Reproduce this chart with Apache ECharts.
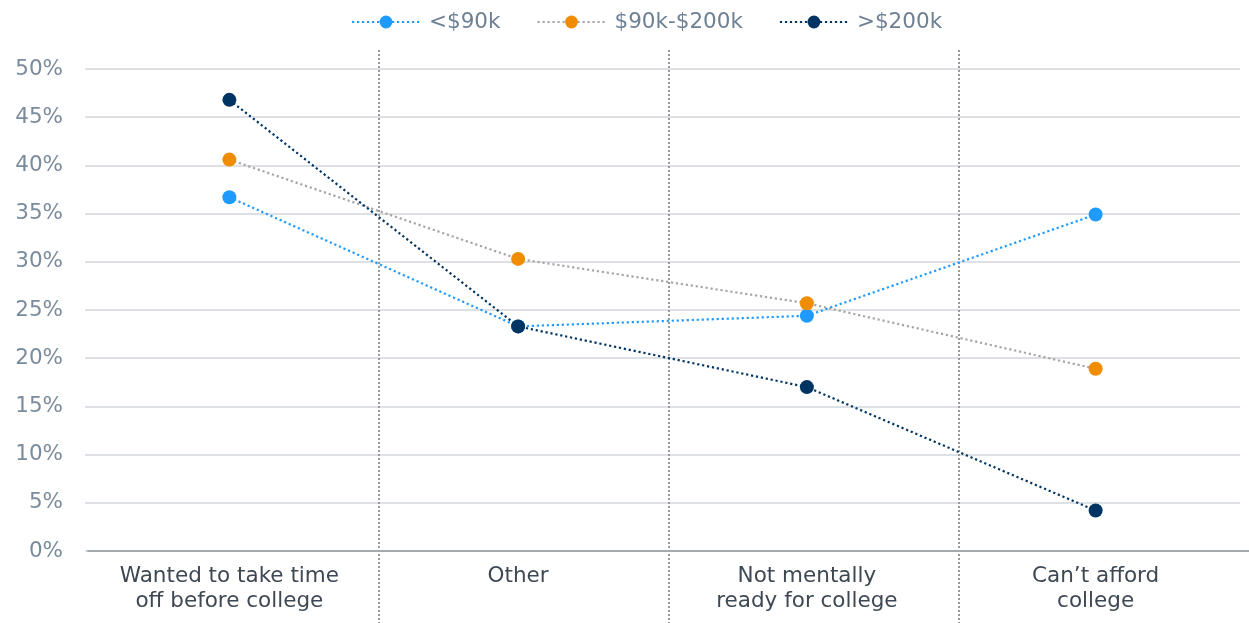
<!DOCTYPE html>
<html>
<head>
<meta charset="utf-8">
<script src="https://cdn.jsdelivr.net/npm/echarts@6/dist/echarts.min.js"></script>
<style>
  html, body { margin: 0; padding: 0; background: #ffffff; }
  #chart { width: 1249px; height: 623px; }
</style>
</head>
<body>
<div id="chart"></div>
<script>
// Reasons for taking time off, share of respondents by household income
const categories = [
  'Wanted to take time\noff before college',
  'Other',
  'Not mentally\nready for college',
  'Can\u2019t afford\ncollege'
];
const seriesNames = ['<$90k', '$90k-$200k', '>$200k'];
const under90k = [36.7, 23.3, 24.4, 34.9];
const from90kTo200k = [40.6, 30.3, 25.7, 18.9];
const over200k = [46.8, 23.3, 17.0, 4.2];
const yMin = 0, yMax = 50, yStep = 5;
const bandCount = categories.length;

const FONT = 'DejaVu Sans';

const lineSeries = (name, data, lineColor, dotColor) => ({
  name,
  type: 'line',
  data,
  xAxisIndex: 0,
  yAxisIndex: 0,
  symbol: 'circle',
  symbolSize: 14,
  lineStyle: { color: lineColor, width: 2.2, type: [2.2, 2.8] },
  itemStyle: { color: dotColor },
  emphasis: { disabled: true },
  z: 3
});

// hidden helper axis: only one visual part of it is switched on
const helperAxis = (gridIndex, extra) => Object.assign({
  type: 'value',
  gridIndex,
  min: 0,
  max: bandCount,
  interval: 1,
  axisLine: { show: false },
  axisTick: { show: false },
  axisLabel: { show: false },
  splitLine: { show: false }
}, extra);

const chart = echarts.init(document.getElementById('chart'), null, { renderer: 'canvas' });
chart.setOption({
  animation: false,
  backgroundColor: '#ffffff',
  legend: {
    top: 6,
    left: 346,
    itemWidth: 68,
    itemHeight: 16,
    itemGap: 36,
    textStyle: { fontFamily: FONT, fontSize: 21.5, color: '#6e8093', padding: [0, 0, 0, 4] },
    data: seriesNames
  },
  grid: [
    { left: 85, right: 9, top: 69, bottom: 72 },   // plot area
    { left: 88, right: 0, top: 50, bottom: 0 },    // band separators
    { left: 88, right: 0, top: 69, bottom: 72 }    // baseline
  ],
  xAxis: [
    {
      type: 'category',
      gridIndex: 0,
      data: categories,
      boundaryGap: true,
      axisLine: { show: false },
      axisTick: { show: false },
      splitLine: { show: false },
      axisLabel: {
        fontFamily: FONT, fontSize: 21.5, color: '#3e4853',
        lineHeight: 25, margin: 13, interval: 0
      }
    },
    helperAxis(1, {
      splitLine: {
        show: true,
        showMinLine: false,
        showMaxLine: false,
        lineStyle: { color: '#9a9a9a', width: 2, type: [2, 2] }
      }
    }),
    helperAxis(2, {
      axisLine: { show: true, onZero: false, lineStyle: { color: '#a4a9ae', width: 2 } }
    })
  ],
  yAxis: [
    {
      type: 'value',
      gridIndex: 0,
      min: yMin,
      max: yMax,
      interval: yStep,
      axisLine: { show: false },
      axisTick: { show: false },
      axisLabel: {
        formatter: '{value}%',
        fontFamily: FONT, fontSize: 21.5, color: '#7a8b9c', margin: 22
      },
      splitLine: { show: true, lineStyle: { color: '#dde1e5', width: 2 } }
    },
    { type: 'value', gridIndex: 1, min: 0, max: 1, show: false, splitLine: { show: false } },
    { type: 'value', gridIndex: 2, min: yMin, max: yMax, show: false, splitLine: { show: false } }
  ],
  series: [
    lineSeries(seriesNames[0], under90k, '#1f9bff', '#1f9bff'),
    lineSeries(seriesNames[1], from90kTo200k, '#a6a6a6', '#f08c00'),
    lineSeries(seriesNames[2], over200k, '#003463', '#003463')
  ]
});
</script>
</body>
</html>
